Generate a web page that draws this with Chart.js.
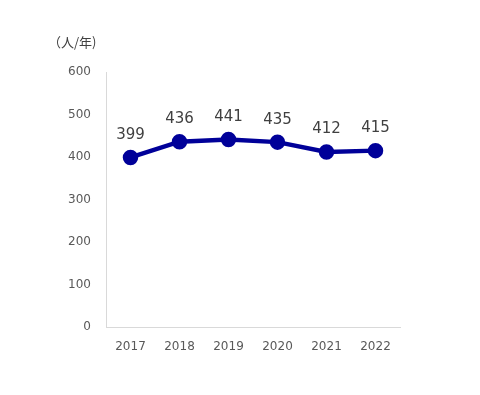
<!DOCTYPE html>
<html>
<head>
<meta charset="utf-8">
<script src="https://cdn.jsdelivr.net/npm/chart.js@4"></script>
<style>
  html, body { margin: 0; padding: 0; background: #fff; }
  #wrap { width: 480px; height: 395px; }
</style>
</head>
<body>
<div id="wrap"><canvas id="chart"></canvas></div>
<script>
"use strict";

const years = ["2017", "2018", "2019", "2020", "2021", "2022"];
const people = [399, 436, 441, 435, 412, 415];
const yTicks = [0, 100, 200, 300, 400, 500, 600];
const unitLabel = "（人/年)";

const fontFamily = "'DejaVu Sans', 'Noto Sans CJK JP', sans-serif";
const cjkFont = "'Noto Sans CJK JP', sans-serif";

// value labels above the points + unit text top left
const labelPlugin = {
  id: "labels",
  afterDatasetsDraw(chart) {
    const ctx = chart.ctx;
    const meta = chart.getDatasetMeta(0);
    ctx.save();
    ctx.fillStyle = "#404040";
    ctx.font = "15px " + fontFamily;
    ctx.textAlign = "center";
    ctx.textBaseline = "bottom";
    meta.data.forEach((pt, i) => {
      ctx.fillText(String(people[i]), pt.x, pt.y - 15);
    });
    ctx.font = "13px " + cjkFont;
    ctx.textAlign = "left";
    ctx.textBaseline = "middle";
    ctx.fillText(unitLabel, 48, 42);
    ctx.restore();
  },
};

const chartArea = document.getElementById("chart");

new Chart(chartArea, {
  type: "line",
  data: {
    labels: years,
    datasets: [
      {
        data: people,
        borderColor: "#000099",
        backgroundColor: "#000099",
        borderWidth: 4.5,
        pointRadius: 5.5,
        pointHoverRadius: 5.5,
        tension: 0,
      },
    ],
  },
  options: {
    responsive: true,
    maintainAspectRatio: false,
    animation: false,
    layout: { padding: { left: 50, right: 80, top: 72, bottom: 38 } },
    plugins: {
      legend: { display: false },
      tooltip: { enabled: false },
    },
    scales: {
      x: {
        offset: true,
        grid: { display: false, drawTicks: false },
        border: { display: true, color: "#d9d9d9", width: 1 },
        ticks: { color: "#595959", font: { size: 12, family: fontFamily }, padding: 13 },
        afterFit(scale) { scale.height = 30; },
      },
      y: {
        min: 0,
        max: 600,
        afterBuildTicks(scale) { scale.ticks = yTicks.map(v => ({ value: v })); },
        grid: { display: false, drawTicks: false },
        border: { display: true, color: "#d9d9d9", width: 1 },
        ticks: { color: "#595959", font: { size: 12, family: fontFamily }, padding: 15 },
        afterFit(scale) { scale.width = 56; },
      },
    },
  },
  plugins: [labelPlugin],
});
</script>
</body>
</html>
